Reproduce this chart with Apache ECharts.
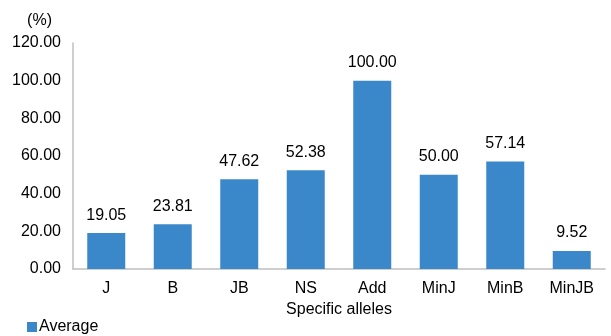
<!DOCTYPE html>
<html>
<head>
<meta charset="utf-8">
<script src="https://cdn.jsdelivr.net/npm/echarts@6/dist/echarts.min.js"></script>
<style>
  html, body { margin: 0; padding: 0; background: #fff; }
  #chart { width: 611px; height: 336px; }
</style>
</head>
<body>
<div id="chart"></div>
<script>
  const categories = ['J', 'B', 'JB', 'NS', 'Add', 'MinJ', 'MinB', 'MinJB'];
  const averageValues = [19.05, 23.81, 47.62, 52.38, 100.00, 50.00, 57.14, 9.52];
  const yTicks = [0, 20, 40, 60, 80, 100, 120];

  const font = 'Liberation Sans, Arial, sans-serif';
  const chart = echarts.init(document.getElementById('chart'));
  chart.setOption({
    animation: false,
    textStyle: { fontFamily: font },
    grid: { left: 73, right: 6, top: 43, bottom: 67 },
    legend: {
      left: 22,
      bottom: -4,
      itemWidth: 10,
      itemHeight: 10,
      itemGap: 4,
      icon: 'rect',
      textStyle: { fontSize: 16, color: '#000', fontFamily: font, padding: [0, 0, 0, -3] },
      data: ['Average']
    },
    xAxis: {
      type: 'category',
      data: categories,
      name: 'Specific alleles',
      nameLocation: 'middle',
      nameGap: 31,
      nameTextStyle: { fontSize: 16, color: '#000', fontFamily: font },
      axisLine: { lineStyle: { color: '#bfbfbf', width: 1.5 } },
      axisTick: { show: false },
      axisLabel: { fontSize: 16, color: '#000', margin: 12 }
    },
    yAxis: {
      type: 'value',
      min: yTicks[0],
      max: yTicks[yTicks.length - 1],
      interval: 20,
      name: '(%)',
      nameGap: 14,
      nameTextStyle: { fontSize: 16, color: '#000', fontFamily: font, align: 'right', padding: [0, 21, 0, 0] },
      axisLine: { show: true, lineStyle: { color: '#bfbfbf', width: 1.5 } },
      axisTick: { show: false },
      splitLine: { show: false },
      axisLabel: {
        fontSize: 16,
        color: '#000',
        margin: 12,
        formatter: v => v.toFixed(2)
      }
    },
    series: [{
      name: 'Average',
      type: 'bar',
      data: averageValues,
      barWidth: 38,
      itemStyle: { color: '#3a88c9' },
      label: {
        show: true,
        position: 'top',
        distance: 10,
        fontSize: 16,
        color: '#000',
        formatter: p => p.value.toFixed(2)
      }
    }]
  });
</script>
</body>
</html>
